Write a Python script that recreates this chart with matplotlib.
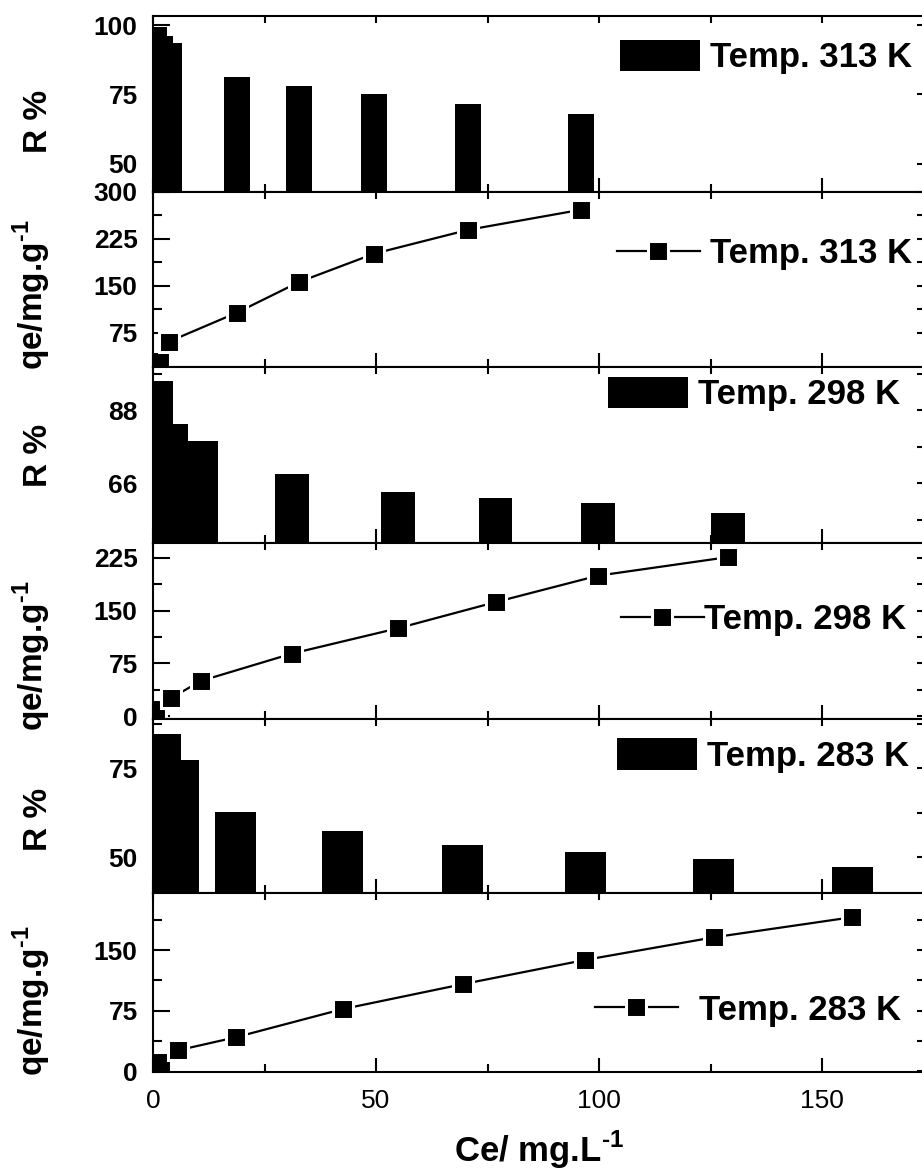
import matplotlib
matplotlib.use("Agg")
from matplotlib import pyplot as plt
from matplotlib.ticker import FixedLocator

plt.rcParams["font.family"] = ["Liberation Sans", "DejaVu Sans"]
plt.rcParams["mathtext.fontset"] = "custom"
plt.rcParams["mathtext.rm"] = "Liberation Sans:bold"
plt.rcParams["mathtext.bf"] = "Liberation Sans:bold"

# Temp. 313 K
ce_313_bar = [0.3, 1.5, 3.6, 18.8, 32.8, 49.6, 70.7, 96.0]
r_313 = [99.3, 96.0, 93.6, 81.2, 77.9, 75.0, 71.7, 67.8]
ce_313 = [1.5, 3.6, 18.8, 32.8, 49.6, 70.7, 96.0]
qe_313 = [30, 61, 107, 156, 201, 239, 271]

# Temp. 298 K
ce_298 = [0.6, 4.0, 10.7, 31.2, 55.0, 76.8, 99.7, 129.0]
r_298 = [96.7, 83.8, 78.7, 68.7, 63.3, 61.5, 60.0, 57.0]
qe_298 = [10, 25.5, 50, 89, 125, 162, 199.5, 226]

# Temp. 283 K
ce_283 = [1.7, 5.7, 18.5, 42.5, 69.5, 96.9, 125.7, 156.8]
r_283 = [84.6, 77.2, 62.6, 57.3, 53.4, 51.4, 49.4, 47.3]
qe_283 = [12, 26, 42, 77, 108, 138, 166, 191]

x_major = [0, 50, 100, 150]
x_minor = [25, 75, 125]

W, H = 922, 1170
fig = plt.figure(figsize=(W / 100, H / 100), dpi=100)

left, right = 153, 924
edges = [16, 191.5, 367, 543, 719, 893, 1072]
xmax = (right - left) / 4.46

tick_font = {"family": "Liberation Sans", "weight": "bold", "size": 19}
leg_prop = {"family": "Liberation Sans", "weight": "bold", "size": 25}


def make_axes(i):
    top, bottom = edges[i], edges[i + 1]
    ax = fig.add_axes([left / W, 1 - bottom / H, (right - left) / W, (bottom - top) / H])
    ax.set_xlim(0, xmax)
    ax.xaxis.set_major_locator(FixedLocator(x_major))
    ax.xaxis.set_minor_locator(FixedLocator(x_minor))
    for s in ax.spines.values():
        s.set_linewidth(1.5)
    ax.tick_params(which="both", direction="in", top=True, right=True, width=1.5)
    ax.tick_params(axis="x", which="major", length=10, pad=12, labelsize=19)
    ax.tick_params(axis="x", which="minor", length=6)
    ax.tick_params(axis="y", which="major", length=12, pad=11)
    ax.tick_params(axis="y", which="minor", length=6.5)
    return ax


def finish_axes(ax, ylim, ymajor, yminor, label, lab_y, last=False):
    ax.set_ylim(*ylim)
    ax.yaxis.set_major_locator(FixedLocator(ymajor))
    ax.yaxis.set_minor_locator(FixedLocator(yminor))
    ax.set_yticks(ymajor)
    ax.set_yticklabels([str(v) for v in ymajor], fontdict=tick_font)
    if not last:
        ax.tick_params(axis="x", labelbottom=False)
    # shorter ticks on the top and right sides
    for t in ax.xaxis.get_major_ticks() + ax.xaxis.get_minor_ticks():
        t.tick2line.set_markersize(5)
    for t in ax.yaxis.get_major_ticks() + ax.yaxis.get_minor_ticks():
        t.tick2line.set_markersize(5)
    lab_x = -0.148 if label == "R %" else -0.157
    ax.set_ylabel(label, fontsize=24, fontweight="bold", va="center")
    ax.yaxis.set_label_coords(lab_x, lab_y)


qe_label = "qe/mg.g$^{\\mathbf{\u2010}1}$"


def bar_panel(i, ce, r, width, ylim, ymajor, yminor, name, leg_xy, lab_y):
    ax = make_axes(i)
    bars = ax.bar(ce, r, width=width, color="black", linewidth=0)
    ax.legend([bars], [name], loc="center right", bbox_to_anchor=leg_xy, frameon=False,
              prop=leg_prop, handlelength=2.3, handleheight=1.03, handletextpad=0.3,
              borderpad=0, borderaxespad=0)
    finish_axes(ax, ylim, ymajor, yminor, "R %", lab_y)
    return ax


def line_panel(i, ce, qe, ylim, ymajor, yminor, name, leg_xy, pad, lab_y, last=False):
    ax = make_axes(i)
    ln, = ax.plot(ce, qe, color="black", lw=1.6, marker="s", ms=13.7,
                  mfc="black", mec="white", mew=2.2)
    ax.legend([ln], [name], loc="center right", bbox_to_anchor=leg_xy, frameon=False,
              prop=leg_prop, handlelength=2.4, handletextpad=pad,
              borderpad=0, borderaxespad=0)
    finish_axes(ax, ylim, ymajor, yminor, qe_label, lab_y, last)
    return ax


bar_panel(0, ce_313_bar, r_313, 5.8, (40, 103.3), [50, 75, 100], [],
          "Temp. 313 K", (0.985, 0.766), 0.40)
line_panel(1, ce_313, qe_313, (20.5, 300), [75, 150, 225, 300], [112.5, 187.5, 262.5],
           "Temp. 313 K", (0.985, 0.646), 0.3, 0.41)
bar_panel(2, ce_298, r_298, 7.6, (48, 101), [66, 88], [55, 77, 99],
          "Temp. 298 K", (0.969, 0.847), 0.50)
line_panel(3, ce_298, qe_298, (-4, 246), [0, 75, 150, 225], [37.5, 112.5, 187.5],
           "Temp. 298 K", (0.977, 0.5625), 0.0, 0.36)
bar_panel(4, ce_283, r_283, 9.2, (40, 88.8), [50, 75], [62.5, 87.5],
          "Temp. 283 K", (0.981, 0.79), 0.42)
ax6 = line_panel(5, ce_283, qe_283, (-1, 221), [0, 75, 150], [37.5, 112.5, 187.5],
                 "Temp. 283 K", (0.970, 0.346), 0.6, 0.40, last=True)

ax6.set_xlabel("Ce/ mg.L$^{\\mathbf{\u2010}1}$", fontsize=25, fontweight="bold", va="center")
ax6.xaxis.set_label_coords(0.501, -0.436)

fig.savefig("out.png", dpi=100)
